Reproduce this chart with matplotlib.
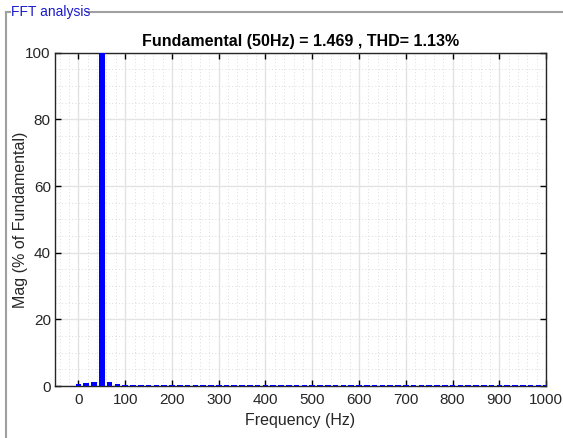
import numpy as np
import matplotlib
matplotlib.use("Agg")
import matplotlib.pyplot as plt
from matplotlib.ticker import MultipleLocator
from matplotlib.lines import Line2D

# FFT spectrum, bins every 50/3 Hz (3-cycle window), in % of fundamental
bin_step_hz = 50.0 / 3.0
mag_pct = [
    0.5, 0.9, 1.3, 100.0, 1.1, 0.7, 0.35, 0.25, 0.2, 0.25,
    0.2, 0.25, 0.2, 0.2, 0.2, 0.25, 0.2, 0.2, 0.2, 0.25,
    0.2, 0.2, 0.2, 0.25, 0.2, 0.2, 0.2, 0.25, 0.2, 0.2,
    0.25, 0.3, 0.3, 0.45, 0.3, 0.25, 0.2, 0.25, 0.3, 0.4,
    0.3, 0.25, 0.2, 0.2, 0.2, 0.25, 0.2, 0.2, 0.2, 0.25,
    0.2, 0.2, 0.2, 0.25, 0.2, 0.25, 0.3, 0.35, 0.25, 0.2,
    0.2,
]
freq_hz = np.arange(len(mag_pct)) * bin_step_hz

title_text = "Fundamental (50Hz) = 1.469 , THD= 1.13%"
x_ticks = [0, 100, 200, 300, 400, 500, 600, 700, 800, 900, 1000]
y_ticks = [0, 20, 40, 60, 80, 100]

plt.rcParams["font.family"] = ["Liberation Sans", "DejaVu Sans"]

fig = plt.figure(figsize=(5.63, 4.38), dpi=100)
fig.patch.set_facecolor("white")

ax = fig.add_axes([0.0977, 0.1187, 0.8723, 0.7609])
ax.bar(freq_hz, mag_pct, width=12, color=(0, 0, 1), edgecolor="none", zorder=3)

ax.set_xlim(-50, 1000)
ax.set_ylim(0, 100)
ax.set_xticks(x_ticks)
ax.set_yticks(y_ticks)
ax.xaxis.set_minor_locator(MultipleLocator(20))
ax.yaxis.set_minor_locator(MultipleLocator(5))

ax.grid(True, which="major", color="#e3e3e3", linewidth=1.0, zorder=0)
ax.grid(True, which="minor", color="#d0d0d0", linewidth=0.6, linestyle=(0, (1, 3)), zorder=0)
ax.set_axisbelow(True)

ax.tick_params(which="major", direction="in", length=4, width=1, top=True, right=True,
               labelsize=11, colors="black", labelcolor="#262626")
ax.tick_params(axis="x", pad=5)
ax.tick_params(axis="y", pad=3)
ax.tick_params(which="minor", length=0, top=True, right=True)
for sp in ax.spines.values():
    sp.set_color("#262626")
    sp.set_linewidth(1.0)

ax.set_title(title_text, fontsize=11.5, fontweight="bold", pad=5)
ax.set_xlabel("Frequency (Hz)", fontsize=11.5, color="#262626", labelpad=4)
ax.set_ylabel("Mag (% of Fundamental)", fontsize=11.5, color="#262626")
ax.yaxis.set_label_coords(-0.054, 0.5)

# Panel frame with caption
panel_color = "#a0a0a0"
fig.add_artist(Line2D([6 / 563, 6 / 563], [0, 1 - 12 / 438], transform=fig.transFigure,
                      color=panel_color, linewidth=1.5))
fig.add_artist(Line2D([6 / 563, 10 / 563], [1 - 12 / 438, 1 - 12 / 438], transform=fig.transFigure,
                      color=panel_color, linewidth=1.5))
fig.add_artist(Line2D([87 / 563, 1.0], [1 - 12 / 438, 1 - 12 / 438], transform=fig.transFigure,
                      color=panel_color, linewidth=1.5))
fig.text(11 / 563, 1 - 12 / 438, "FFT analysis", color="#1a1acc", fontsize=10,
         ha="left", va="center")

fig.savefig("out.png", dpi=100, facecolor="white")
